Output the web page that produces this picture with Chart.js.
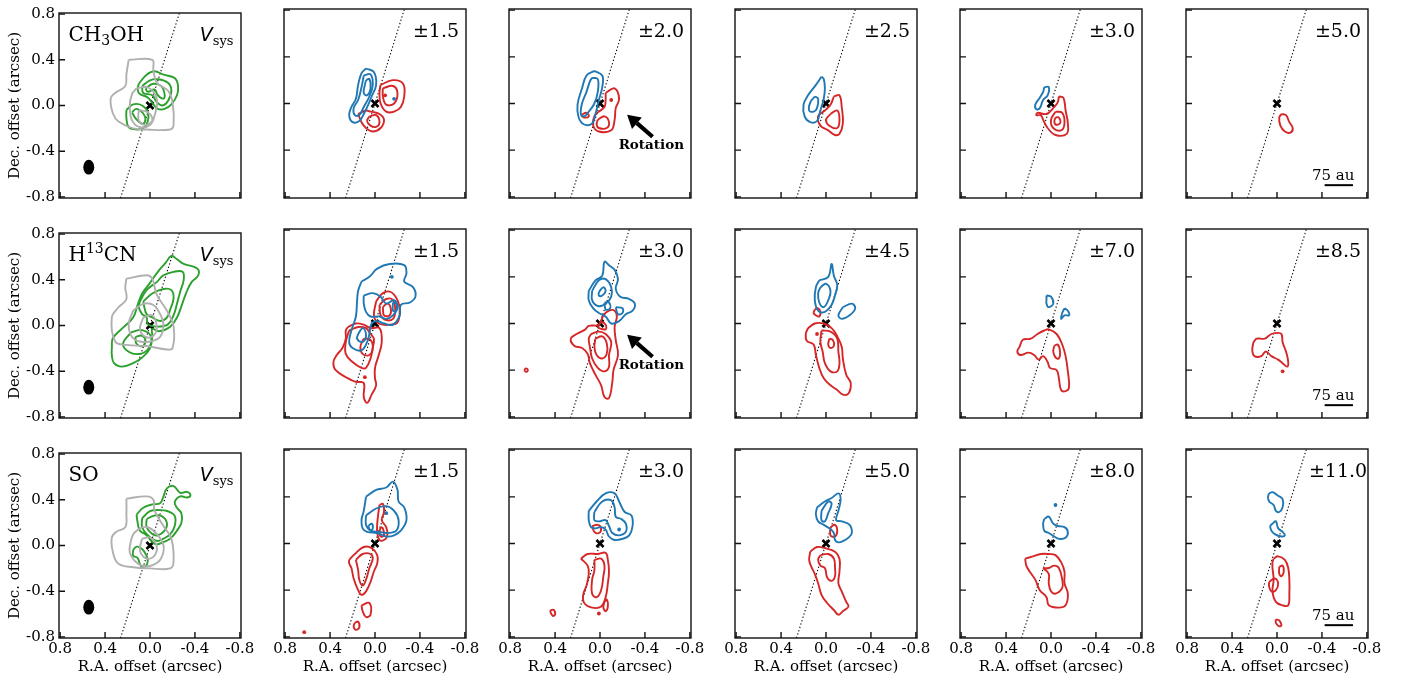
<!DOCTYPE html>
<html>
<head>
<meta charset="utf-8">
<script src="https://cdn.jsdelivr.net/npm/chart.js@4.4.1/dist/chart.umd.min.js"></script>
<style>
  body { margin: 0; background: #fff; width: 1411px; height: 682px; overflow: hidden; position: relative; }
  canvas { position: absolute; }
</style>
</head>
<body>
<script>
// ---- axes / labels ----
const tickVals = [0.8, 0.4, 0.0, -0.4, -0.8];
const tickLabels = ['0.8', '0.4', '0.0', '-0.4', '-0.8'];
const axisLimit = 0.81;
const xTitle = 'R.A. offset (arcsec)';
const yTitle = 'Dec. offset (arcsec)';

// molecule names: [text, 0 normal / 1 subscript / 2 superscript]
const moleculeLabels = [
  [['CH', 0], ['3', 1], ['OH', 0]],
  [['H', 0], ['13', 2], ['CN', 0]],
  [['SO', 0]]
];
const velocityLabels = [
  ['Vsys', '±1.5', '±2.0', '±2.5', '±3.0', '±5.0'],
  ['Vsys', '±1.5', '±3.0', '±4.5', '±7.0', '±8.5'],
  ['Vsys', '±1.5', '±3.0', '±5.0', '±8.0', '±11.0']
];

// dotted axis line, beam, scale bar, rotation arrow (arcsec)
const pvLineX = [0.262, -0.262];
const pvLineY = [-0.81, 0.81];
const beamPos = [0.545, -0.54];
const beamSize = [0.098, 0.13];
const scaleBarX = [-0.424, -0.676];
const scaleBarY = -0.70;
const scaleBarLabel = '75 au';
const scaleBarLabelPos = [-0.50, -0.655];
const arrowTail = [-0.468, -0.285];
const arrowTip = [-0.241, -0.096];
const arrowLabel = 'Rotation';
const arrowLabelPos = [-0.457, -0.36];

// ---- CH3OH ----
const ch3ohVsysGray = [
  [[0.19,0.40],[-0.02,0.40],[-0.03,0.31],[-0.06,0.20],[-0.16,0.13],[-0.20,0.03],[-0.21,-0.17],[-0.18,-0.21],[0.03,-0.21],[0.15,-0.20],[0.28,-0.14],[0.33,-0.07],[0.35,0.06],[0.31,0.11],[0.22,0.17],[0.21,0.27]],
  [[0.12,0.15],[0.02,0.16],[-0.06,0.06],[-0.04,-0.09],[0,-0.17],[0.09,-0.19],[0.16,-0.13],[0.18,0],[0.16,0.10]],
  [[0.10,-0.04],[0.02,-0.06],[-0.02,-0.13],[0.04,-0.17],[0.10,-0.13]]
];
const ch3ohVsysGreen = [
  [[0.10,0.19],[0.03,0.27],[-0.04,0.30],[-0.12,0.27],[-0.22,0.24],[-0.25,0.17],[-0.24,0.09],[-0.19,0.01],[-0.13,-0.03],[-0.07,-0.03],[-0.03,0.01],[0.02,0.07],[0.09,0.10],[0.11,0.14]],
  [[0.07,0.17],[0,0.22],[-0.07,0.23],[-0.16,0.20],[-0.19,0.13],[-0.16,0.04],[-0.11,0],[-0.06,0.03],[-0.02,0.09],[0.06,0.11]],
  [[0.04,0.15],[-0.03,0.19],[-0.10,0.17],[-0.13,0.10],[-0.12,0.06],[-0.07,0.09],[-0.04,0.14],[0.02,0.12]],
  [[0.21,-0.04],[0.15,0.01],[0.07,0],[0.02,-0.06],[0.02,-0.14],[0.06,-0.20],[0.12,-0.21],[0.19,-0.19],[0.21,-0.11]],
  [[0.16,-0.06],[0.12,-0.03],[0.06,-0.07],[0.04,-0.13],[0.07,-0.16],[0.13,-0.11]]
];
const ch3oh15Blue = [
  [[0.08,0.30],[0.01,0.27],[-0.01,0.16],[0.03,0.06],[0.06,-0.01],[0.10,-0.09],[0.14,-0.15],[0.20,-0.16],[0.23,-0.10],[0.21,-0.03],[0.17,0.04],[0.15,0.16],[0.12,0.26]],
  [[0.10,0.24],[0.04,0.25],[0.02,0.16],[0.05,0.06],[0.10,-0.03],[0.14,-0.10],[0.18,-0.10],[0.19,-0.04],[0.15,0.03],[0.12,0.14]],
  [[0.08,0.20],[0.05,0.21],[0.04,0.13],[0.07,0.07],[0.10,0.09],[0.09,0.16]]
];
const ch3oh15BlueDots = [[-0.17,0.04]];
const ch3oh15Red = [
  [[-0.05,0.16],[-0.16,0.20],[-0.25,0.17],[-0.26,0.06],[-0.23,-0.03],[-0.17,-0.07],[-0.10,-0.07],[-0.05,0],[-0.04,0.09]],
  [[-0.07,0.13],[-0.16,0.15],[-0.20,0.09],[-0.17,0],[-0.10,-0.01],[-0.07,0.06]],
  [[0.15,-0.09],[0.08,-0.06],[0.04,-0.07],[-0.04,-0.09],[-0.08,-0.14],[-0.05,-0.21],[0.02,-0.24],[0.08,-0.21],[0.12,-0.16]],
  [[0.05,-0.11],[-0.01,-0.10],[-0.04,-0.16],[-0.01,-0.20],[0.04,-0.19],[0.07,-0.15]]
];
const ch3oh15RedDots = [[-0.09,0.07]];
const ch3oh20Blue = [
  [[0.05,0.28],[-0.02,0.24],[-0.02,0.14],[0.01,0.03],[0.04,-0.09],[0.07,-0.17],[0.14,-0.18],[0.19,-0.12],[0.20,-0.01],[0.16,0.13],[0.12,0.24]],
  [[0.07,0.22],[0.02,0.21],[0.02,0.10],[0.05,0],[0.10,-0.07],[0.14,-0.11],[0.17,-0.09],[0.16,0],[0.12,0.10],[0.09,0.19]]
];
const ch3oh20Red = [
  [[-0.05,0.09],[-0.13,0.13],[-0.17,0.04],[-0.14,-0.04],[-0.13,-0.14],[-0.10,-0.23],[0.01,-0.24],[0.06,-0.19],[0.05,-0.11],[0.01,-0.07],[-0.04,-0.03],[-0.05,0.03]],
  [[0.02,-0.14],[-0.04,-0.11],[-0.08,-0.16],[-0.06,-0.21],[0.01,-0.21],[0.03,-0.18]],
  [[0.17,-0.10],[0.12,-0.08],[0.10,-0.11],[0.14,-0.12]]
];
const ch3oh20RedDots = [[-0.10,0.03]];
const ch3oh25Blue = [
  [[0.04,0.23],[0.02,0.21],[0.01,0.13],[0.02,0.04],[0.05,-0.06],[0.08,-0.15],[0.14,-0.16],[0.19,-0.11],[0.20,-0.01],[0.16,0.07],[0.09,0.16]],
  [[0.10,0.06],[0.07,0.04],[0.08,-0.04],[0.11,-0.07],[0.15,-0.06],[0.14,0.01]]
];
const ch3oh25Red = [
  [[-0.07,0.06],[-0.12,0.07],[-0.14,-0.03],[-0.15,-0.17],[-0.12,-0.26],[-0.08,-0.27],[-0.02,-0.23],[0.05,-0.19],[0.07,-0.11],[0.01,-0.06],[-0.04,-0.01]],
  [[-0.04,-0.09],[-0.10,-0.06],[-0.12,-0.14],[-0.10,-0.21],[-0.03,-0.19],[0,-0.14]]
];
const ch3oh30Blue = [
  [[0.06,0.14],[0.02,0.14],[0.03,0.07],[0.07,0.03],[0.10,-0.04],[0.13,-0.05],[0.14,-0.01],[0.10,0.05],[0.07,0.10]]
];
const ch3oh30Red = [
  [[-0.07,0.06],[-0.11,0.05],[-0.13,-0.06],[-0.15,-0.17],[-0.14,-0.26],[-0.04,-0.27],[0.03,-0.21],[0.07,-0.14],[0.09,-0.10],[0.13,-0.10],[0.12,-0.08],[0.04,-0.09],[-0.02,-0.04],[-0.06,0.01]],
  [[-0.04,-0.07],[-0.10,-0.08],[-0.12,-0.17],[-0.09,-0.23],[-0.02,-0.21],[0,-0.14]],
  [[-0.04,-0.12],[-0.07,-0.12],[-0.08,-0.17],[-0.04,-0.18],[-0.03,-0.15]]
];
const ch3oh50Red = [
  [[-0.04,-0.09],[-0.08,-0.10],[-0.11,-0.16],[-0.14,-0.21],[-0.12,-0.25],[-0.07,-0.24],[-0.03,-0.19],[-0.02,-0.12]]
];

// ---- H13CN ----
const h13cnVsysGray = [
  [[0.21,0.41],[0.03,0.44],[-0.02,0.41],[-0.06,0.27],[-0.15,0.13],[-0.21,-0.01],[-0.20,-0.20],[-0.15,-0.21],[0.03,-0.18],[0.21,-0.17],[0.31,-0.14],[0.34,0.07],[0.28,0.16],[0.21,0.23],[0.22,0.33]],
  [[0.15,0.13],[0.06,0.19],[-0.03,0.18],[-0.09,0.10],[-0.12,0.01],[-0.09,-0.10],[0,-0.14],[0.09,-0.14],[0.16,-0.10],[0.19,0.01]],
  [[0.06,0.07],[-0.02,0.09],[-0.06,-0.01],[-0.03,-0.09],[0.04,-0.10],[0.09,-0.03]]
];
const h13cnVsysGreen = [
  [[0.34,-0.20],[0.33,-0.11],[0.23,-0.01],[0.15,0.07],[0.11,0.18],[0.07,0.28],[0.01,0.36],[-0.07,0.47],[-0.14,0.55],[-0.19,0.61],[-0.24,0.58],[-0.30,0.54],[-0.42,0.50],[-0.43,0.44],[-0.37,0.38],[-0.32,0.28],[-0.28,0.17],[-0.24,0.07],[-0.18,-0.01],[-0.08,-0.05],[-0.02,-0.03],[-0.02,-0.09],[0,-0.20],[0.07,-0.28],[0.15,-0.33],[0.25,-0.36],[0.32,-0.33],[0.34,-0.26]],
  [[0.09,0.21],[0.03,0.31],[-0.06,0.38],[-0.12,0.44],[-0.21,0.47],[-0.29,0.47],[-0.30,0.40],[-0.27,0.30],[-0.24,0.19],[-0.21,0.09],[-0.16,0.01],[-0.07,-0.01],[0.02,0.01],[0.03,0.07],[0.07,0.10],[0.10,0.16]],
  [[0.06,0.21],[-0.02,0.28],[-0.12,0.32],[-0.19,0.31],[-0.21,0.24],[-0.18,0.14],[-0.15,0.07],[-0.09,0.04],[-0.02,0.07],[0.03,0.10],[0.05,0.16]],
  [[0.17,-0.06],[0.07,-0.04],[-0.01,-0.10],[0.02,-0.21],[0.10,-0.25],[0.19,-0.23],[0.24,-0.16]],
  [[0.13,-0.10],[0.07,-0.09],[0.04,-0.14],[0.07,-0.18],[0.12,-0.16]]
];
const h13cn15Blue = [
  [[0.12,0.36],[0.05,0.40],[-0.02,0.47],[-0.13,0.51],[-0.26,0.50],[-0.28,0.43],[-0.26,0.36],[-0.34,0.31],[-0.36,0.23],[-0.31,0.18],[-0.23,0.16],[-0.22,0.07],[-0.16,-0.01],[-0.08,0],[-0.02,0.02],[0.03,0],[0.05,-0.09],[0.07,-0.16],[0.12,-0.23],[0.20,-0.21],[0.23,-0.16],[0.21,-0.06],[0.17,0.06],[0.16,0.19],[0.15,0.28]],
  [[0.10,0.24],[0.02,0.26],[-0.05,0.23],[-0.10,0.17],[-0.17,0.20],[-0.20,0.14],[-0.16,0.07],[-0.10,0.04],[-0.04,0.06],[0.04,0.06],[0.08,0.10],[0.10,0.17]],
  [[0.15,-0.09],[0.11,-0.04],[0.08,-0.09],[0.09,-0.14],[0.12,-0.16],[0.16,-0.13]],
  [[-0.16,0.18],[-0.19,0.17],[-0.19,0.11],[-0.16,0.11]]
];
const h13cn15BlueDots = [[-0.15,0.40]];
const h13cn15Red = [
  [[0.24,-0.03],[0.17,0],[0.10,-0.01],[0.04,-0.04],[-0.04,-0.04],[-0.06,-0.16],[-0.03,-0.28],[0,-0.38],[0,-0.47],[-0.01,-0.53],[0.03,-0.61],[0.07,-0.68],[0.10,-0.63],[0.10,-0.51],[0.17,-0.50],[0.24,-0.47],[0.35,-0.40],[0.37,-0.33],[0.34,-0.27],[0.29,-0.21],[0.26,-0.13],[0.26,-0.06]],
  [[0.23,-0.06],[0.15,-0.03],[0.08,-0.04],[0.04,-0.09],[0.01,-0.13],[0.02,-0.21],[0.04,-0.30],[0.08,-0.38],[0.12,-0.38],[0.20,-0.33],[0.26,-0.26],[0.26,-0.16]],
  [[0.10,-0.13],[0.04,-0.14],[0.02,-0.21],[0.05,-0.27],[0.11,-0.26],[0.13,-0.20]],
  [[-0.01,0.19],[-0.07,0.26],[-0.14,0.27],[-0.20,0.20],[-0.22,0.11],[-0.20,0.01],[-0.13,-0.01],[-0.07,-0.01],[-0.02,0.01],[0.01,0.07]],
  [[-0.04,0.16],[-0.10,0.21],[-0.16,0.20],[-0.18,0.11],[-0.16,0.04],[-0.10,0.03],[-0.05,0.07]],
  [[-0.07,0.14],[-0.11,0.17],[-0.14,0.13],[-0.13,0.07],[-0.08,0.07]]
];
const h13cn15RedDots = [[0.09,-0.46]];
const h13cn30Blue = [
  [[0.10,0.28],[0.04,0.37],[-0.02,0.41],[-0.04,0.53],[-0.08,0.50],[-0.13,0.46],[-0.16,0.38],[-0.14,0.30],[-0.18,0.23],[-0.26,0.21],[-0.31,0.17],[-0.29,0.11],[-0.23,0.08],[-0.17,0.02],[-0.10,0],[-0.05,0.06],[0.01,0.09],[0.06,0.13],[0.10,0.20]],
  [[0.07,0.28],[0.01,0.37],[-0.05,0.38],[-0.10,0.31],[-0.10,0.23],[-0.05,0.17],[0.02,0.15],[0.07,0.20]],
  [[0.01,0.27],[-0.03,0.31],[-0.05,0.28],[-0.02,0.24],[0.01,0.24]],
  [[-0.04,0.18],[-0.08,0.18],[-0.09,0.13],[-0.05,0.12]],
  [[-0.14,0.14],[-0.20,0.13],[-0.20,0.09],[-0.16,0.08]]
];
const h13cn30Red = [
  [[0.21,-0.09],[0.13,-0.05],[0.10,-0.02],[0.01,-0.01],[-0.03,0.07],[-0.08,0.11],[-0.13,0.11],[-0.15,0.06],[-0.13,-0.03],[-0.14,-0.14],[-0.16,-0.27],[-0.12,-0.40],[-0.11,-0.50],[-0.08,-0.64],[-0.04,-0.63],[-0.01,-0.53],[0.04,-0.44],[0.09,-0.34],[0.11,-0.26],[0.16,-0.21],[0.23,-0.19],[0.26,-0.13]],
  [[0.08,-0.09],[0.01,-0.07],[-0.05,-0.09],[-0.10,-0.16],[-0.08,-0.27],[-0.08,-0.37],[-0.04,-0.41],[0.02,-0.38],[0.07,-0.30],[0.09,-0.20],[0.10,-0.13]],
  [[0.04,-0.13],[-0.02,-0.11],[-0.06,-0.17],[-0.06,-0.26],[-0.02,-0.30],[0.03,-0.27],[0.05,-0.20]],
  [[0.02,-0.03],[-0.01,0.01],[-0.05,-0.01],[-0.05,-0.05],[0.01,-0.04]],
  [[0.675,-0.40],[0.658,-0.385],[0.642,-0.40],[0.658,-0.415]]
];
const h13cn45Blue = [
  [[0.06,0.37],[-0.02,0.40],[-0.05,0.51],[-0.07,0.41],[-0.10,0.33],[-0.08,0.24],[-0.05,0.16],[0.01,0.10],[0.07,0.11],[0.10,0.20],[0.09,0.31]],
  [[0.05,0.31],[0,0.34],[-0.04,0.28],[-0.02,0.20],[0.02,0.14],[0.06,0.18],[0.07,0.26]],
  [[-0.15,0.14],[-0.23,0.17],[-0.26,0.13],[-0.21,0.07],[-0.14,0.04],[-0.11,0.07]]
];
const h13cn45Red = [
  [[0.10,0.12],[0.07,0.13],[0.05,0.10],[0.06,0.06],[0.09,0.07],[0.11,0.09]],
  [[0.16,-0.04],[0.10,0],[0.02,0],[-0.05,-0.04],[-0.10,-0.11],[-0.14,-0.20],[-0.15,-0.30],[-0.18,-0.44],[-0.22,-0.51],[-0.20,-0.60],[-0.15,-0.61],[-0.10,-0.57],[-0.04,-0.53],[0.02,-0.47],[0.06,-0.38],[0.09,-0.27],[0.11,-0.18],[0.17,-0.15],[0.18,-0.09]],
  [[0.04,-0.06],[-0.04,-0.07],[-0.10,-0.13],[-0.11,-0.24],[-0.12,-0.34],[-0.10,-0.41],[-0.04,-0.41],[0.01,-0.34],[0.03,-0.24],[0.05,-0.16]],
  [[-0.03,-0.13],[-0.06,-0.14],[-0.07,-0.19],[-0.04,-0.21],[-0.02,-0.18]]
];
const h13cn45RedDots = [[0.08,-0.09]];
const h13cn70Blue = [
  [[0.04,0.24],[0,0.23],[-0.02,0.17],[0.02,0.14],[0.04,0.17],[0.04,0.21]],
  [[-0.12,0.13],[-0.15,0.11],[-0.16,0.07],[-0.12,0.07],[-0.09,0.04],[-0.10,0.09]]
];
const h13cn70Red = [
  [[0.28,-0.20],[0.25,-0.14],[0.18,-0.13],[0.12,-0.09],[0.06,-0.06],[0.02,-0.05],[-0.05,-0.09],[-0.10,-0.18],[-0.13,-0.28],[-0.15,-0.41],[-0.16,-0.55],[-0.13,-0.58],[-0.09,-0.57],[-0.07,-0.47],[-0.05,-0.40],[0.01,-0.38],[0.03,-0.33],[0.07,-0.28],[0.11,-0.31],[0.15,-0.27],[0.20,-0.25],[0.27,-0.27],[0.30,-0.24]],
  [[-0.03,-0.19],[-0.06,-0.18],[-0.08,-0.24],[-0.07,-0.30],[-0.04,-0.29],[-0.02,-0.24]]
];
const h13cn85Red = [
  [[0.21,-0.16],[0.18,-0.13],[0.11,-0.13],[0.05,-0.09],[-0.01,-0.08],[-0.04,-0.09],[-0.05,-0.16],[-0.08,-0.24],[-0.10,-0.33],[-0.09,-0.37],[-0.05,-0.34],[-0.01,-0.31],[0.05,-0.28],[0.10,-0.24],[0.14,-0.28],[0.20,-0.28],[0.22,-0.23]]
];
const h13cn85RedDots = [[-0.05,-0.41]];

// ---- SO ----
const soVsysGray = [
  [[0.21,0.41],[0.03,0.43],[-0.03,0.40],[-0.04,0.31],[-0.12,0.17],[-0.19,0.06],[-0.21,-0.14],[-0.18,-0.20],[0,-0.20],[0.15,-0.19],[0.28,-0.16],[0.33,-0.06],[0.34,0.07],[0.30,0.12],[0.22,0.16],[0.21,0.28]],
  [[0.15,0.10],[0.09,0.15],[0.02,0.16],[-0.06,0.10],[-0.12,0],[-0.10,-0.11],[-0.03,-0.17],[0.06,-0.18],[0.13,-0.14],[0.18,-0.06],[0.17,0.04]],
  [[0.07,0.06],[0,0.07],[-0.06,-0.01],[-0.03,-0.10],[0.04,-0.11],[0.09,-0.04]]
];
const soVsysGreen = [
  [[0.12,0.27],[0.06,0.33],[-0.02,0.36],[-0.09,0.37],[-0.12,0.43],[-0.15,0.50],[-0.21,0.52],[-0.27,0.46],[-0.33,0.47],[-0.36,0.44],[-0.33,0.42],[-0.27,0.43],[-0.22,0.38],[-0.24,0.33],[-0.28,0.28],[-0.28,0.20],[-0.24,0.13],[-0.18,0.06],[-0.12,0.03],[-0.06,0.01],[-0.02,0.03],[0.03,0.09],[0.09,0.13],[0.11,0.20]],
  [[0.07,0.24],[0,0.30],[-0.09,0.31],[-0.16,0.30],[-0.22,0.26],[-0.22,0.17],[-0.18,0.10],[-0.12,0.06],[-0.06,0.04],[0.02,0.09],[0.07,0.16]],
  [[0.03,0.23],[-0.03,0.26],[-0.10,0.26],[-0.15,0.20],[-0.13,0.13],[-0.07,0.09],[-0.02,0.10],[0.03,0.16]],
  [[0.15,-0.04],[0.12,-0.01],[0.07,-0.03],[0.03,-0.09],[0.02,-0.14],[0.04,-0.18],[0.08,-0.18],[0.11,-0.11],[0.15,-0.09]]
];
const so15Blue = [
  [[0.08,0.40],[-0.01,0.46],[-0.10,0.48],[-0.16,0.53],[-0.20,0.46],[-0.21,0.36],[-0.26,0.31],[-0.28,0.20],[-0.23,0.11],[-0.17,0.07],[-0.10,0.06],[-0.02,0.09],[0.07,0.10],[0.11,0.13],[0.12,0.20],[0.10,0.28]],
  [[0.08,0.24],[-0.01,0.30],[-0.10,0.32],[-0.17,0.28],[-0.21,0.20],[-0.19,0.11],[-0.11,0.09],[-0.04,0.10],[0.04,0.11],[0.08,0.16]],
  [[0.06,0.15],[0.03,0.17],[0.02,0.13],[0.04,0.11]]
];
const so15BlueDots = [[-0.10,0.26]];
const so15Red = [
  [[-0.04,0.33],[-0.07,0.34],[-0.08,0.27],[-0.06,0.20],[-0.10,0.14],[-0.11,0.07],[-0.08,0.03],[-0.04,0.03],[-0.02,0.09],[-0.02,0.17],[-0.03,0.26]],
  [[-0.05,0.14],[-0.07,0.13],[-0.08,0.07],[-0.05,0.06],[-0.04,0.09]],
  [[0.23,-0.14],[0.18,-0.09],[0.10,-0.03],[0.03,-0.04],[-0.02,-0.10],[-0.02,-0.17],[0.01,-0.24],[0.04,-0.33],[0.08,-0.41],[0.12,-0.44],[0.15,-0.40],[0.19,-0.30],[0.21,-0.21],[0.23,-0.17]],
  [[0.17,-0.14],[0.11,-0.09],[0.04,-0.09],[0.02,-0.13],[0.05,-0.21],[0.08,-0.31],[0.11,-0.36],[0.14,-0.31],[0.15,-0.23]],
  [[0.12,-0.53],[0.05,-0.51],[0.04,-0.61],[0.08,-0.63],[0.11,-0.58]],
  [[0.18,-0.68],[0.15,-0.67],[0.14,-0.72],[0.17,-0.74],[0.19,-0.71]]
];
const so15RedDots = [[0.63,-0.76]];
const so30Blue = [
  [[0.10,0.28],[0.03,0.36],[-0.05,0.43],[-0.13,0.43],[-0.17,0.36],[-0.22,0.27],[-0.28,0.24],[-0.29,0.15],[-0.26,0.07],[-0.20,0.04],[-0.13,0.03],[-0.08,0.06],[-0.05,0.12],[-0.01,0.14],[0.04,0.13],[0.08,0.14],[0.10,0.20]],
  [[0.05,0.27],[-0.02,0.36],[-0.10,0.37],[-0.13,0.31],[-0.14,0.23],[-0.19,0.21],[-0.23,0.17],[-0.23,0.10],[-0.17,0.07],[-0.11,0.09],[-0.08,0.15],[-0.05,0.20],[0.01,0.19],[0.05,0.20]]
];
const so30BlueDots = [[-0.17,0.12]];
const so30Red = [
  [[0.07,0.15],[0.02,0.16],[-0.01,0.13],[0.01,0.09],[0.05,0.10]],
  [[0.17,-0.13],[0.11,-0.09],[0.02,-0.09],[-0.05,-0.08],[-0.07,-0.14],[-0.08,-0.24],[-0.07,-0.34],[-0.05,-0.46],[-0.01,-0.54],[0.07,-0.55],[0.14,-0.51],[0.15,-0.44],[0.12,-0.36],[0.10,-0.26],[0.11,-0.19]],
  [[0.05,-0.14],[-0.01,-0.13],[-0.04,-0.19],[-0.03,-0.28],[-0.01,-0.40],[0.03,-0.46],[0.07,-0.43],[0.07,-0.31],[0.05,-0.23]],
  [[-0.04,-0.50],[-0.06,-0.48],[-0.07,-0.54],[-0.05,-0.58],[-0.03,-0.55]],
  [[0.44,-0.57],[0.41,-0.57],[0.40,-0.61],[0.42,-0.62],[0.44,-0.59]]
];
const so30RedDots = [[0.01,-0.60]];
const so50Blue = [
  [[0.08,0.31],[0.01,0.36],[-0.05,0.39],[-0.11,0.43],[-0.13,0.38],[-0.11,0.28],[-0.09,0.20],[-0.14,0.19],[-0.21,0.16],[-0.23,0.09],[-0.20,0.05],[-0.15,0.02],[-0.11,0.01],[-0.08,0.03],[-0.07,0.09],[-0.03,0.13],[0.02,0.16],[0.07,0.19],[0.09,0.25]],
  [[0.04,0.28],[-0.02,0.36],[-0.05,0.34],[-0.02,0.26],[0.01,0.19],[0.04,0.20]]
];
const so50Red = [
  [[-0.04,0.14],[-0.08,0.16],[-0.10,0.11],[-0.08,0.06],[-0.04,0.07]],
  [[0.14,-0.07],[0.08,-0.03],[0.01,-0.04],[-0.08,-0.07],[-0.12,-0.13],[-0.12,-0.24],[-0.11,-0.34],[-0.14,-0.41],[-0.18,-0.50],[-0.20,-0.54],[-0.15,-0.58],[-0.11,-0.61],[-0.07,-0.57],[-0.01,-0.51],[0.04,-0.44],[0.07,-0.34],[0.10,-0.26],[0.13,-0.20],[0.15,-0.14]],
  [[0.05,-0.10],[-0.02,-0.09],[-0.07,-0.13],[-0.08,-0.21],[-0.08,-0.28],[-0.05,-0.32],[-0.01,-0.29],[0.01,-0.21],[0.05,-0.19],[0.07,-0.14]]
];
const so80Blue = [
  [[0.06,0.21],[0.02,0.23],[-0.02,0.17],[-0.06,0.15],[-0.12,0.14],[-0.15,0.10],[-0.13,0.05],[-0.07,0.04],[-0.03,0.06],[0.02,0.09],[0.06,0.11],[0.07,0.17]]
];
const so80BlueDots = [[-0.04,0.33]];
const so80Red = [
  [[0.23,-0.13],[0.16,-0.11],[0.09,-0.09],[0.02,-0.09],[-0.04,-0.10],[-0.09,-0.16],[-0.12,-0.24],[-0.12,-0.34],[-0.15,-0.43],[-0.13,-0.53],[-0.07,-0.55],[0.02,-0.53],[0.04,-0.46],[0.10,-0.40],[0.14,-0.31],[0.19,-0.24],[0.22,-0.19]],
  [[0.07,-0.21],[0.02,-0.21],[-0.03,-0.19],[-0.07,-0.21],[-0.10,-0.31],[-0.10,-0.38],[-0.04,-0.43],[0,-0.41],[0.02,-0.34],[0.02,-0.26]]
];
const so110Blue = [
  [[0.07,0.43],[0.04,0.44],[-0.01,0.41],[-0.05,0.38],[-0.05,0.31],[-0.02,0.27],[0.01,0.28],[0.03,0.33],[0.07,0.36],[0.08,0.40]],
  [[0.04,0.17],[0.01,0.19],[-0.01,0.13],[-0.05,0.10],[-0.07,0.07],[-0.04,0.06],[0.02,0.08],[0.05,0.11],[0.06,0.15]]
];
const so110Red = [
  [[0.03,-0.13],[-0.01,-0.11],[-0.07,-0.14],[-0.10,-0.21],[-0.11,-0.31],[-0.11,-0.43],[-0.10,-0.53],[-0.05,-0.53],[0.01,-0.50],[0.04,-0.41],[0.03,-0.31],[0.04,-0.21],[0.04,-0.16]],
  [[-0.02,-0.20],[-0.05,-0.19],[-0.06,-0.24],[-0.04,-0.28],[-0.02,-0.26]],
  [[0.07,-0.33],[0.02,-0.30],[-0.01,-0.34],[0.01,-0.40],[0.05,-0.41],[0.07,-0.37]],
  [[0.01,-0.65],[-0.02,-0.66],[-0.04,-0.70],[-0.02,-0.71],[0.01,-0.68]]
];

const panels = [
  {r: 0, c: 0, gray: ch3ohVsysGray, green: ch3ohVsysGreen},
  {r: 0, c: 1, blue: ch3oh15Blue, red: ch3oh15Red, blueDots: ch3oh15BlueDots, redDots: ch3oh15RedDots},
  {r: 0, c: 2, blue: ch3oh20Blue, red: ch3oh20Red, redDots: ch3oh20RedDots, arrow: true},
  {r: 0, c: 3, blue: ch3oh25Blue, red: ch3oh25Red},
  {r: 0, c: 4, blue: ch3oh30Blue, red: ch3oh30Red},
  {r: 0, c: 5, red: ch3oh50Red, bar: true},
  {r: 1, c: 0, gray: h13cnVsysGray, green: h13cnVsysGreen},
  {r: 1, c: 1, blue: h13cn15Blue, red: h13cn15Red, blueDots: h13cn15BlueDots, redDots: h13cn15RedDots},
  {r: 1, c: 2, blue: h13cn30Blue, red: h13cn30Red, arrow: true},
  {r: 1, c: 3, blue: h13cn45Blue, red: h13cn45Red, redDots: h13cn45RedDots},
  {r: 1, c: 4, blue: h13cn70Blue, red: h13cn70Red},
  {r: 1, c: 5, red: h13cn85Red, redDots: h13cn85RedDots, bar: true},
  {r: 2, c: 0, gray: soVsysGray, green: soVsysGreen},
  {r: 2, c: 1, blue: so15Blue, red: so15Red, blueDots: so15BlueDots, redDots: so15RedDots},
  {r: 2, c: 2, blue: so30Blue, red: so30Red, blueDots: so30BlueDots, redDots: so30RedDots},
  {r: 2, c: 3, blue: so50Blue, red: so50Red},
  {r: 2, c: 4, blue: so80Blue, red: so80Red, blueDots: so80BlueDots},
  {r: 2, c: 5, blue: so110Blue, red: so110Red, bar: true}
];

// ---- layout ----
const colLeft = [59, 284, 509, 735, 960, 1186];
const rowTop = [9, 229, 449];
const panelW = 182, panelH = 189;
const padL = 59, padT = 9, padR = 24, padB = 44;
const colors = {gray: '#b0b0b0', green: '#2ca02c', blue: '#1f77b4', red: '#d62728'};
const serif = 'DejaVu Serif';

Chart.defaults.font.family = serif;

function loopSet(pts, color) {
  const d = pts.map(p => ({x: p[0], y: p[1]}));
  d.push(d[0]);
  return {data: d, showLine: true, borderColor: color, borderWidth: 1.9, pointRadius: 0,
          tension: 0.4, fill: false};
}
function dotSet(pts, color) {
  return {data: pts.map(p => ({x: p[0], y: p[1]})), showLine: false, pointRadius: 1.9,
          pointBackgroundColor: color, pointBorderWidth: 0};
}

function drawParts(ctx, parts, x, y, align) {
  let w = 0;
  parts.forEach(p => { ctx.font = p.font; p.w = ctx.measureText(p.t).width; w += p.w; });
  let cx = align === 'center' ? x - w / 2 : (align === 'right' ? x - w : x);
  ctx.textAlign = 'left';
  ctx.textBaseline = 'alphabetic';
  parts.forEach(p => { ctx.font = p.font; ctx.fillText(p.t, cx, y + (p.dy || 0)); cx += p.w; });
}

function decoPlugin(p) {
  return {
    id: 'deco',
    afterDatasetsDraw(chart) {
      const {ctx, chartArea: a, scales: {x, y}} = chart;
      ctx.save();
      ctx.fillStyle = '#000';
      ctx.strokeStyle = '#000';
      // beam
      if (p.c === 0) {
        const cx = x.getPixelForValue(beamPos[0]), cy = y.getPixelForValue(beamPos[1]);
        const rx = Math.abs(x.getPixelForValue(beamPos[0] + beamSize[0] / 2) - cx);
        const ry = Math.abs(y.getPixelForValue(beamPos[1] + beamSize[1] / 2) - cy);
        ctx.beginPath();
        ctx.ellipse(cx, cy, rx, ry, 0, 0, 2 * Math.PI);
        ctx.fill();
      }
      // labels
      const big = '19px "' + serif + '"';
      const mol = '20px "' + serif + '"';
      const molSmall = '14px "' + serif + '"';
      const small = '13px "' + serif + '"';
      if (p.c === 0) {
        const parts = moleculeLabels[p.r].map(s => ({
          t: s[0], font: s[1] ? molSmall : mol, dy: s[1] === 1 ? 4 : (s[1] === 2 ? -8 : 0)
        }));
        drawParts(ctx, parts, a.left + 9.5, a.top + 28, 'left');
        drawParts(ctx, [
          {t: 'V', font: 'italic 19px "DejaVu Sans"'},
          {t: 'sys', font: small, dy: 4}
        ], a.right - 7.5, a.top + 28, 'right');
      } else {
        drawParts(ctx, [{t: velocityLabels[p.r][p.c], font: big}], a.right - 30, a.top + 28, 'center');
      }
      // scale bar
      if (p.bar) {
        ctx.lineWidth = 2;
        ctx.beginPath();
        ctx.moveTo(x.getPixelForValue(scaleBarX[0]), y.getPixelForValue(scaleBarY));
        ctx.lineTo(x.getPixelForValue(scaleBarX[1]), y.getPixelForValue(scaleBarY));
        ctx.stroke();
        drawParts(ctx, [{t: scaleBarLabel, font: '15px "' + serif + '"'}],
          x.getPixelForValue(scaleBarLabelPos[0]), y.getPixelForValue(scaleBarLabelPos[1]), 'center');
      }
      // rotation arrow
      if (p.arrow) {
        const x0 = x.getPixelForValue(arrowTail[0]), y0 = y.getPixelForValue(arrowTail[1]);
        const x1 = x.getPixelForValue(arrowTip[0]), y1 = y.getPixelForValue(arrowTip[1]);
        const ang = Math.atan2(y1 - y0, x1 - x0);
        const hl = 13, hw = 7.5;
        const bx = x1 - hl * Math.cos(ang), by = y1 - hl * Math.sin(ang);
        ctx.lineWidth = 4.2;
        ctx.beginPath();
        ctx.moveTo(x0, y0);
        ctx.lineTo(bx, by);
        ctx.stroke();
        ctx.beginPath();
        ctx.moveTo(x1, y1);
        ctx.lineTo(bx + hw * Math.sin(ang), by - hw * Math.cos(ang));
        ctx.lineTo(bx - hw * Math.sin(ang), by + hw * Math.cos(ang));
        ctx.closePath();
        ctx.fill();
        ctx.font = 'bold 13.5px "' + serif + '"';
        ctx.textAlign = 'center';
        ctx.textBaseline = 'middle';
        ctx.fillText(arrowLabel, x.getPixelForValue(arrowLabelPos[0]), y.getPixelForValue(arrowLabelPos[1]));
      }
      ctx.restore();
    },
    afterDraw(chart) {
      const {ctx, chartArea: a, scales: {x, y}} = chart;
      ctx.save();
      ctx.strokeStyle = '#111';
      ctx.lineWidth = 1.4;
      ctx.strokeRect(a.left, a.top, a.right - a.left, a.bottom - a.top);
      ctx.beginPath();
      x.ticks.forEach(t => {
        const px = x.getPixelForValue(t.value);
        ctx.moveTo(px, a.bottom);
        ctx.lineTo(px, a.bottom - 6);
      });
      y.ticks.forEach(t => {
        const py = y.getPixelForValue(t.value);
        ctx.moveTo(a.left, py);
        ctx.lineTo(a.left + 6, py);
      });
      ctx.stroke();
      ctx.restore();
    }
  };
}

panels.forEach(p => {
  const cv = document.createElement('canvas');
  cv.width = padL + panelW + padR;
  cv.height = padT + panelH + padB;
  cv.style.left = (colLeft[p.c] - padL) + 'px';
  cv.style.top = (rowTop[p.r] - padT) + 'px';
  cv.style.width = cv.width + 'px';
  cv.style.height = cv.height + 'px';
  document.body.appendChild(cv);

  const ds = [];
  (p.gray || []).forEach(c => ds.push(loopSet(c, colors.gray)));
  (p.green || []).forEach(c => ds.push(loopSet(c, colors.green)));
  (p.blue || []).forEach(c => ds.push(loopSet(c, colors.blue)));
  (p.red || []).forEach(c => ds.push(loopSet(c, colors.red)));
  if (p.blueDots) ds.push(dotSet(p.blueDots, colors.blue));
  if (p.redDots) ds.push(dotSet(p.redDots, colors.red));
  ds.push({
    data: [{x: pvLineX[0], y: pvLineY[0]}, {x: pvLineX[1], y: pvLineY[1]}],
    showLine: true, borderColor: '#000', borderWidth: 1.1, borderDash: [1.3, 2.2], pointRadius: 0
  });
  ds.push({
    data: [{x: 0, y: 0}], showLine: false, pointStyle: 'crossRot', pointRadius: 5,
    pointBorderColor: '#000', borderColor: '#000', pointBorderWidth: 2.6
  });

  const tickFont = {family: serif, size: 15};
  new Chart(cv, {
    type: 'scatter',
    data: {datasets: ds},
    options: {
      responsive: false,
      animation: false,
      events: [],
      layout: {padding: {top: padT, right: padR, left: 0, bottom: 0}},
      plugins: {legend: {display: false}, tooltip: {enabled: false}},
      scales: {
        x: {
          type: 'linear', min: -axisLimit, max: axisLimit, reverse: true,
          afterBuildTicks: s => { s.ticks = tickVals.map(v => ({value: v})); },
          afterFit: s => { s.height = padB; },
          grid: {display: false, drawTicks: false},
          border: {display: false},
          ticks: {
            display: p.r === 2, autoSkip: false, maxRotation: 0, padding: 2, color: '#000', font: tickFont,
            callback: v => tickLabels[tickVals.indexOf(v)]
          },
          title: {
            display: p.r === 2, text: xTitle, color: '#000', font: tickFont,
            padding: {top: 0, bottom: 6}
          }
        },
        y: {
          type: 'linear', min: -axisLimit, max: axisLimit,
          afterBuildTicks: s => { s.ticks = tickVals.slice().reverse().map(v => ({value: v})); },
          afterFit: s => { s.width = padL; },
          grid: {display: false, drawTicks: false},
          border: {display: false},
          ticks: {
            display: p.c === 0, autoSkip: false, padding: 4, color: '#000', font: tickFont,
            callback: v => tickLabels[tickVals.indexOf(v)]
          },
          title: {
            display: p.c === 0, text: yTitle, color: '#000', font: tickFont,
            padding: {top: 6, bottom: 0}
          }
        }
      }
    },
    plugins: [decoPlugin(p)]
  });
});
</script>
</body>
</html>
